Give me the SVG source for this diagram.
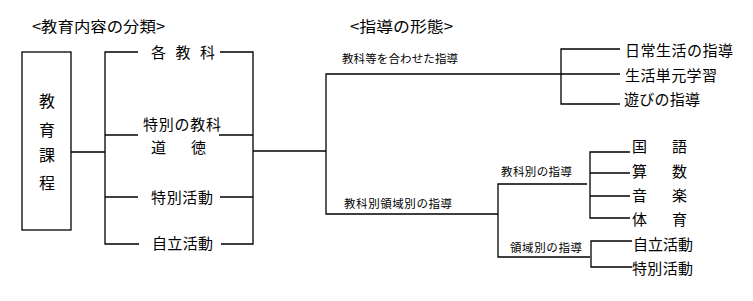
<svg xmlns="http://www.w3.org/2000/svg" width="753" height="301" viewBox="0 0 753 301">
<style>
text{font-family:"Noto Sans CJK JP","Noto Sans CJK SC",sans-serif;fill:#000}
.t{font-size:15px}
.m{font-size:15px}
.s{font-size:11.5px}
.b{font-size:16px}
#connectors line,#connectors polyline{stroke:#000;stroke-width:1.3;fill:none}
</style>
<rect width="753" height="301" fill="#fff"/>
<g id="title-left"><text class="t" x="32" y="32" textLength="133" lengthAdjust="spacingAndGlyphs">&lt;教育内容の分類&gt;</text></g>
<g id="title-right"><text class="t" x="350" y="32" textLength="103" lengthAdjust="spacingAndGlyphs">&lt;指導の形態&gt;</text></g>
<g id="curriculum">
<rect x="22" y="52" width="49" height="178" fill="none" stroke="#000" stroke-width="1.3"/>
<text class="b" x="47" y="106.5" text-anchor="middle">教</text>
<text class="b" x="47" y="135.5" text-anchor="middle">育</text>
<text class="b" x="47" y="161" text-anchor="middle">課</text>
<text class="b" x="47" y="189" text-anchor="middle">程</text>
</g>
<g id="kakukyouka"><text class="m" x="151" y="57.5" letter-spacing="9.5">各教科</text></g>
<g id="tokubetsu-kyouka"><text class="m" x="143" y="129.5" textLength="78">特別の教科</text><text class="m" y="152.5"><tspan x="151">道</tspan><tspan x="191">徳</tspan></text></g>
<g id="tokubetsu-katsudou"><text class="m" x="151" y="202.5" textLength="62">特別活動</text></g>
<g id="jiritsu-katsudou"><text class="m" x="152" y="249" textLength="61">自立活動</text></g>
<g id="awaseta"><text class="s" x="342" y="62.5" textLength="116">教科等を合わせた指導</text></g>
<g id="kyoukabetsu-ryouiki"><text class="s" x="344" y="207.5" textLength="108">教科別領域別の指導</text></g>
<g id="nichijou"><text class="m" x="625" y="55.5" textLength="108">日常生活の指導</text></g>
<g id="seikatsu"><text class="m" x="625" y="80.5" textLength="92">生活単元学習</text></g>
<g id="asobi"><text class="m" x="624" y="105" textLength="76">遊びの指導</text></g>
<g id="kyoukabetsu"><text class="s" x="501" y="175.5" textLength="71">教科別の指導</text></g>
<g id="ryouikibetsu"><text class="s" x="510" y="251.5" textLength="72">領域別の指導</text></g>
<g id="kokugo"><text class="m" y="152"><tspan x="632">国</tspan><tspan x="672">語</tspan></text></g>
<g id="sansuu"><text class="m" y="177"><tspan x="632">算</tspan><tspan x="672">数</tspan></text></g>
<g id="ongaku"><text class="m" y="201"><tspan x="632">音</tspan><tspan x="672">楽</tspan></text></g>
<g id="taiiku"><text class="m" y="224.5"><tspan x="632">体</tspan><tspan x="672">育</tspan></text></g>
<g id="jiritsu2"><text class="m" x="633" y="249.5" textLength="60">自立活動</text></g>
<g id="tokubetsu2"><text class="m" x="632" y="273.5" textLength="61">特別活動</text></g>
<g id="connectors">
<line x1="71" y1="152" x2="105" y2="152"/>
<polyline points="138,52 105,52 105,244 139,244"/>
<line x1="105" y1="135" x2="138" y2="135"/>
<line x1="105" y1="197" x2="138" y2="197"/>
<polyline points="220,52 253,52 253,244 221,244"/>
<line x1="219" y1="135" x2="253" y2="135"/>
<line x1="220" y1="197" x2="253" y2="197"/>
<line x1="253" y1="151" x2="326" y2="151"/>
<polyline points="620,74 326,74 326,214 498,214"/>
<polyline points="620,49 561,49 561,104 620,104"/>
<polyline points="587,184 498,184 498,257 590,257"/>
<polyline points="630,152 590,152 590,218 630,218"/>
<line x1="590" y1="173" x2="630" y2="173"/>
<line x1="590" y1="196" x2="630" y2="196"/>
<polyline points="632,241 591,241 591,267 632,267"/>
</g>
</svg>
